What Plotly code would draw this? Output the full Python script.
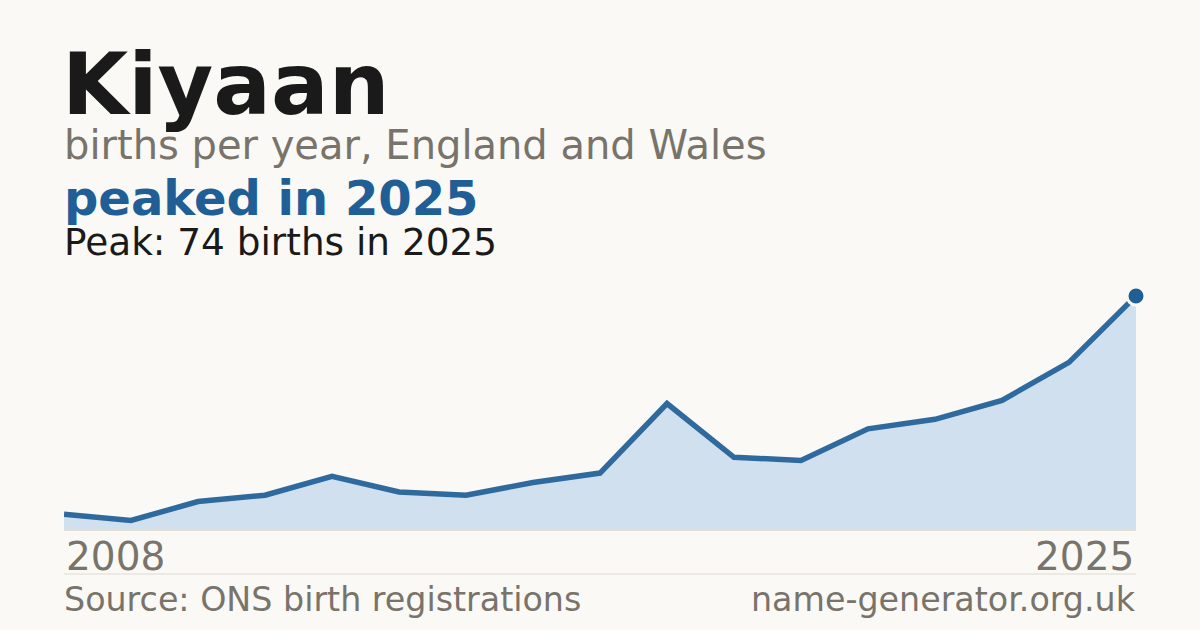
"""Single-name birth trend card: Kiyaan, England and Wales."""
import plotly.graph_objects as go

# data
years = [2008, 2009, 2010, 2011, 2012, 2013, 2014, 2015, 2016,
         2017, 2018, 2019, 2021, 2022, 2023, 2024, 2025]
births = [5, 3, 9, 11, 17, 12, 11, 15, 18, 40, 23, 22, 32, 35, 41, 53, 74]
tick_labels = ["2008", "2025"]

name = "Kiyaan"
subtitle = "births per year, England and Wales"
headline = "peaked in 2025"
peak_note = "Peak: 74 births in 2025"
source = "Source: ONS birth registrations"
site = "name-generator.org.uk"

BG = "#faf9f5"
INK = "#1a1a1a"
MUTED = "#78736b"
BLUE = "#1f5f96"
LINE = "#2f6a9e"
FILL = "#d0e0ef"
RULE = "#dedad2"
FONT = "DejaVu Sans"

W, H = 1200, 630
L, R, T, B = 64, 64, 290, 100
PLOT_H = H - T - B
idx = list(range(len(years)))


def py(y_px):
    """Pixel row -> paper y for the plot domain."""
    return (H - B - y_px) / PLOT_H


def px(x_px):
    return (x_px - L) / (W - L - R)


fig = go.Figure()
fig.add_trace(
    go.Scatter(
        x=idx,
        y=births,
        mode="lines",
        fill="tozeroy",
        fillcolor=FILL,
        line=dict(color=LINE, width=5.5),
        hoverinfo="skip",
        showlegend=False,
        cliponaxis=False,
    )
)
fig.add_trace(
    go.Scatter(
        x=[idx[-1]],
        y=[births[-1]],
        mode="markers",
        marker=dict(size=18, color=BLUE, line=dict(color=BG, width=3)),
        hoverinfo="skip",
        showlegend=False,
        cliponaxis=False,
    )
)


def text(x, y, s, size, color, bold=False, anchor="left", xref="paper"):
    fig.add_annotation(
        x=x, y=y, xref=xref, yref="paper", text=f"<b>{s}</b>" if bold else s,
        showarrow=False, xanchor=anchor, yanchor="middle",
        font=dict(family=FONT, size=size, color=color),
    )


# centre = baseline - 0.346 * size (DejaVu metrics)
text(px(60), py(114 - 0.346 * 85.5), name, 85.5, INK, bold=True)
text(px(62), py(159 - 0.346 * 40), subtitle, 40, MUTED)
text(px(62), py(215 - 0.346 * 48), headline, 48, BLUE, bold=True)
text(px(62), py(255 - 0.346 * 37.4), peak_note, 37.4, INK)
text(idx[0], py(570 - 0.346 * 39), tick_labels[0], 39, MUTED, xref="x")
text(idx[-1], py(570 - 0.346 * 39), tick_labels[1], 39, MUTED, anchor="right", xref="x")
text(px(62), py(611 - 0.346 * 33.3), source, 33.3, MUTED)
text(px(1138), py(611 - 0.346 * 33.3), site, 33.3, MUTED, anchor="right")

fig.add_shape(
    type="line", xref="paper", yref="paper", x0=0, x1=1, y0=py(574), y1=py(574),
    line=dict(color=RULE, width=1),
)

fig.update_layout(
    width=W,
    height=H,
    margin=dict(l=L, r=R, t=T, b=B),
    paper_bgcolor=BG,
    plot_bgcolor=BG,
    font=dict(family=FONT, color=INK),
    xaxis=dict(
        range=[idx[0], idx[-1]], showgrid=False, zeroline=False, showticklabels=False,
        showline=True, linecolor="#e6dfd3", linewidth=1, fixedrange=True,
    ),
    yaxis=dict(
        range=[0, 74 * PLOT_H / 234], showgrid=False, zeroline=False,
        showticklabels=False, fixedrange=True,
    ),
)

fig.write_html(
    "out.html",
    config={"displayModeBar": False},
    post_script="document.body.style.margin='0';document.body.style.background='#faf9f5';",
)
